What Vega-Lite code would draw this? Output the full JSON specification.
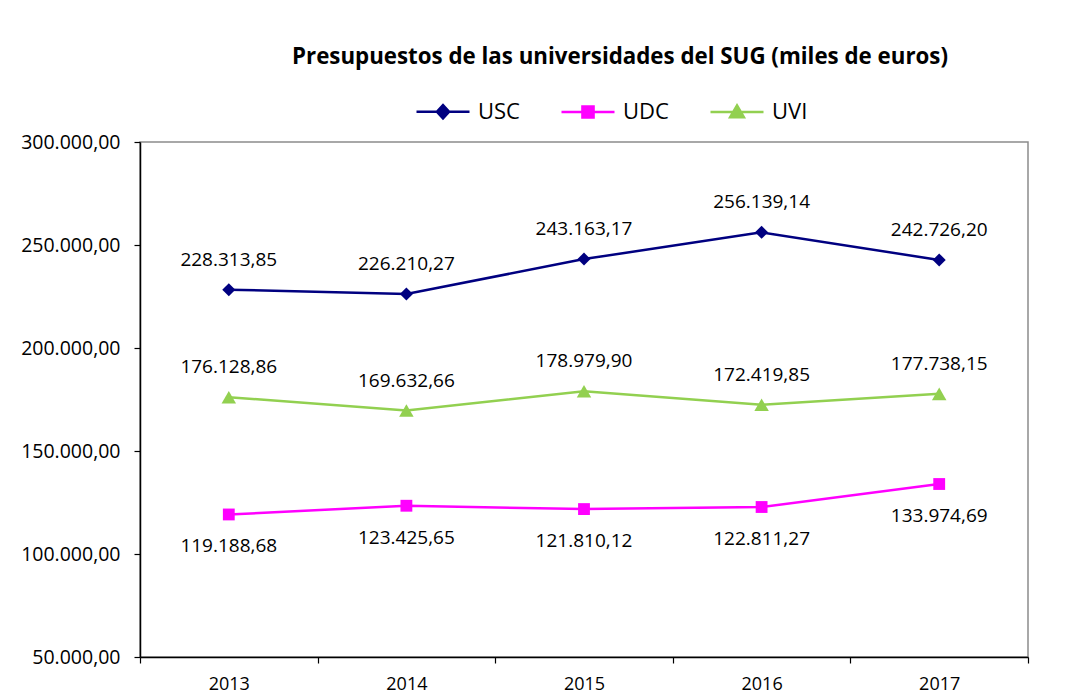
{
  "$schema": "https://vega.github.io/schema/vega-lite/v6.json",
  "width": 888,
  "height": 515,
  "autosize": {"type": "none"},
  "padding": {"left": 140, "top": 142, "right": 58, "bottom": 40},
  "background": "white",
  "title": {
    "text": "Presupuestos de las universidades del SUG (miles de euros)",
    "font": "Open Sans",
    "fontSize": 22.3,
    "fontWeight": "bold",
    "color": "black",
    "anchor": "middle",
    "frame": "group",
    "dx": 36,
    "offset": 15
  },
  "config": {
    "locale": {"number": {"decimal": ",", "thousands": ".", "grouping": [3], "currency": ["", " €"]}},
    "view": {"stroke": "#8c8c8c", "strokeWidth": 1.5},
    "font": "Open Sans",
    "axis": {"domainColor": "black", "tickColor": "black", "labelColor": "black", "grid": false, "labelFont": "Open Sans", "title": null, "domainWidth": 1.5, "tickWidth": 1.2}
  },
  "data": {
    "values": [
      {"year": 2013, "series": "USC", "value": 228313.85},
      {"year": 2014, "series": "USC", "value": 226210.27},
      {"year": 2015, "series": "USC", "value": 243163.17},
      {"year": 2016, "series": "USC", "value": 256139.14},
      {"year": 2017, "series": "USC", "value": 242726.20},
      {"year": 2013, "series": "UDC", "value": 119188.68},
      {"year": 2014, "series": "UDC", "value": 123425.65},
      {"year": 2015, "series": "UDC", "value": 121810.12},
      {"year": 2016, "series": "UDC", "value": 122811.27},
      {"year": 2017, "series": "UDC", "value": 133974.69},
      {"year": 2013, "series": "UVI", "value": 176128.86},
      {"year": 2014, "series": "UVI", "value": 169632.66},
      {"year": 2015, "series": "UVI", "value": 178979.90},
      {"year": 2016, "series": "UVI", "value": 172419.85},
      {"year": 2017, "series": "UVI", "value": 177738.15}
    ]
  },
  "resolve": {"axis": {"x": "independent"}},
  "layer": [
    {
      "mark": {"type": "line", "strokeWidth": 2.5},
      "encoding": {
        "x": {
          "field": "year", "type": "quantitative",
          "scale": {"domain": [2012.5, 2017.5], "nice": false, "zero": false},
          "axis": {"orient": "bottom", "values": [2012.5, 2013.5, 2014.5, 2015.5, 2016.5, 2017.5], "labels": false, "tickSize": 6, "domain": true}
        },
        "y": {
          "field": "value", "type": "quantitative",
          "scale": {"domain": [50000, 300000], "nice": false, "zero": false},
          "axis": {"values": [50000, 100000, 150000, 200000, 250000, 300000], "format": ",.2f", "tickSize": 6, "labelPadding": 14, "labelFontSize": 19.5}
        },
        "color": {
          "field": "series", "type": "nominal",
          "scale": {"domain": ["USC", "UDC", "UVI"], "range": ["#000080", "#FF00FF", "#92D050"]},
          "legend": {
            "title": null,
            "orient": "none",
            "direction": "horizontal",
            "legendX": 275,
            "legendY": -58.5,
            "padding": 0,
            "symbolSize": 2809,
            "labelOffset": 7,
            "columnPadding": 36,
            "labelFontSize": 22,
            "labelColor": "black",
            "labelFont": "Open Sans",
            "encode": {
              "symbols": {
                "update": {
                  "shape": {"signal": "datum.value === 'USC' ? 'M-1,0L1,0M0,-0.25L0.23,0L0,0.25L-0.23,0Z' : datum.value === 'UDC' ? 'M-1,0L1,0M-0.21,-0.21L0.21,-0.21L0.21,0.21L-0.21,0.21Z' : 'M-1,0L1,0M0,-0.25L0.26,0.2L-0.26,0.2Z'"},
                  "fill": {"signal": "datum.value === 'USC' ? '#000080' : datum.value === 'UDC' ? '#FF00FF' : '#92D050'"},
                  "stroke": {"signal": "datum.value === 'USC' ? '#000080' : datum.value === 'UDC' ? '#FF00FF' : '#92D050'"},
                  "strokeWidth": {"value": 2.5},
                  "size": {"value": 2809},
                  "opacity": {"value": 1},
                  "fillOpacity": {"value": 1},
                  "strokeOpacity": {"value": 1}
                }
              }
            }
          }
        }
      }
    },
    {
      "transform": [{"filter": "datum.series === 'USC'"}],
      "mark": {"type": "point", "filled": true, "opacity": 1, "shape": "diamond", "size": 170},
      "encoding": {
        "x": {
          "field": "year", "type": "quantitative",
          "axis": {"orient": "bottom", "values": [2013, 2014, 2015, 2016, 2017], "format": "d", "ticks": false, "domain": false, "labelFontSize": 18, "labelPadding": 18}
        },
        "y": {"field": "value", "type": "quantitative"},
        "color": {"field": "series", "type": "nominal", "legend": null}
      }
    },
    {
      "transform": [{"filter": "datum.series === 'UDC'"}],
      "mark": {"type": "point", "filled": true, "opacity": 1, "shape": "square", "size": 140},
      "encoding": {
        "x": {"field": "year", "type": "quantitative", "axis": null},
        "y": {"field": "value", "type": "quantitative"},
        "color": {"field": "series", "type": "nominal", "legend": null}
      }
    },
    {
      "transform": [{"filter": "datum.series === 'UVI'"}],
      "mark": {"type": "point", "filled": true, "opacity": 1, "shape": "triangle-up", "size": 210},
      "encoding": {
        "x": {"field": "year", "type": "quantitative", "axis": null},
        "y": {"field": "value", "type": "quantitative"},
        "color": {"field": "series", "type": "nominal", "legend": null}
      }
    },
    {
      "transform": [{"filter": "datum.series !== 'UDC'"}],
      "mark": {"type": "text", "dy": -30, "fontSize": 19, "color": "black", "font": "Open Sans"},
      "encoding": {
        "x": {"field": "year", "type": "quantitative", "axis": null},
        "y": {"field": "value", "type": "quantitative"},
        "text": {"field": "value", "type": "quantitative", "format": ",.2f"}
      }
    },
    {
      "transform": [{"filter": "datum.series === 'UDC'"}],
      "mark": {"type": "text", "dy": 32, "fontSize": 19, "color": "black", "font": "Open Sans"},
      "encoding": {
        "x": {"field": "year", "type": "quantitative", "axis": null},
        "y": {"field": "value", "type": "quantitative"},
        "text": {"field": "value", "type": "quantitative", "format": ",.2f"}
      }
    }
  ]
}
